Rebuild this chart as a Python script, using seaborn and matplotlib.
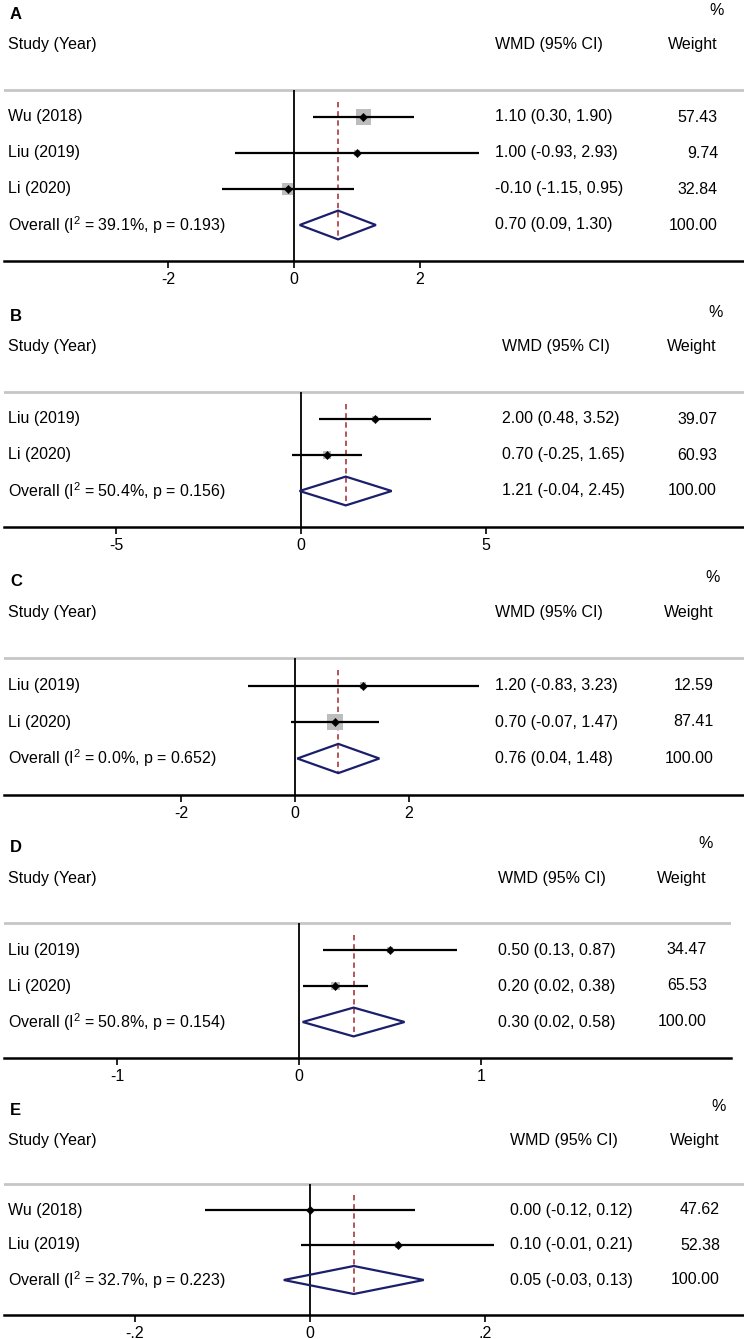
import numpy as np
import pandas as pd
import seaborn as sns
import matplotlib.pyplot as plt
from matplotlib import transforms

# datos de cada panel (A-E)
panel_labels = ['A', 'B', 'C', 'D', 'E']
studies = [['Wu (2018)', 'Liu (2019)', 'Li (2020)'],
           ['Liu (2019)', 'Li (2020)'],
           ['Liu (2019)', 'Li (2020)'],
           ['Liu (2019)', 'Li (2020)'],
           ['Wu (2018)', 'Liu (2019)']]
wmd = [[1.10, 1.00, -0.10], [2.00, 0.70], [1.20, 0.70], [0.50, 0.20], [0.00, 0.10]]
ci_low = [[0.30, -0.93, -1.15], [0.48, -0.25], [-0.83, -0.07], [0.13, 0.02], [-0.12, -0.01]]
ci_high = [[1.90, 2.93, 0.95], [3.52, 1.65], [3.23, 1.47], [0.87, 0.38], [0.12, 0.21]]
weights = [[57.43, 9.74, 32.84], [39.07, 60.93], [12.59, 87.41], [34.47, 65.53], [47.62, 52.38]]
overall_wmd = [0.70, 1.21, 0.76, 0.30, 0.05]
overall_low = [0.09, -0.04, 0.04, 0.02, -0.03]
overall_high = [1.30, 2.45, 1.48, 0.58, 0.13]
i2 = ['39.1', '50.4', '0.0', '50.8', '32.7']
p_het = ['0.193', '0.156', '0.652', '0.154', '0.223']
xticks = [[-2, 0, 2], [-5, 0, 5], [-2, 0, 2], [-1, 0, 1], [-0.2, 0, 0.2]]
xticklabels = [['-2', '0', '2'], ['-5', '0', '5'], ['-2', '0', '2'],
               ['-1', '0', '1'], ['-.2', '0', '.2']]

# geometria en pixeles (figura 744x1339)
W, H = 744, 1339
left_px = 4
axis_px = [261, 527, 795, 1058, 1315]
zero_px = [294, 301, 295, 299, 310]
unit_px = [63, 37, 57, 182, 875]
right_px = [744, 744, 744, 731, 744]
row_px = [36, 36, 36.5, 36, 35]
wmd_px = [495, 502, 495, 498, 510]
weight_px = [718, 717, 714, 707, 720]
box_scale = [1.98, 1.03, 1.71, 1.05, 0.7]

sns.set_theme(style='white')
plt.rcParams['font.family'] = ['Liberation Sans', 'DejaVu Sans']
plt.rcParams['mathtext.fontset'] = 'custom'
plt.rcParams['mathtext.rm'] = 'Liberation Sans'
plt.rcParams['text.color'] = 'black'
plt.rcParams['xtick.color'] = 'black'
fs = 11.5

fig = plt.figure(figsize=(W / 100, H / 100), dpi=100)
fig.patch.set_facecolor('white')

for k in range(5):
    n = len(studies[k])
    top_row, bottom_row = -2.3, n + 2
    h = (bottom_row - top_row) * row_px[k]
    ax = fig.add_axes([left_px / W, 1 - axis_px[k] / H,
                       (right_px[k] - left_px) / W, h / H])
    ax.set_xlim((left_px - zero_px[k]) / unit_px[k], (right_px[k] - zero_px[k]) / unit_px[k])
    ax.set_ylim(bottom_row, top_row)
    ax.set_facecolor('none')

    df = pd.DataFrame({'study': studies[k], 'wmd': wmd[k], 'lo': ci_low[k],
                       'hi': ci_high[k], 'w': weights[k]})
    df['row'] = np.arange(1, n + 1)
    ov = n + 1

    # lineas de referencia
    ax.axhline(0.25, color='#c6c6c6', lw=2, zorder=1)
    ax.vlines(0, 0.25, bottom_row, color='black', lw=1.3, zorder=2)
    ax.vlines(overall_wmd[k], 0.58, ov + 0.42, colors='#a3272d',
              linestyles=(0, (3.5, 2.5)), lw=1.1, zorder=2)

    # cajas, intervalos y puntos
    side = box_scale[k] * np.sqrt(df['w']) * 0.72
    ax.scatter(df['wmd'], df['row'], marker='s', s=side ** 2, color='#bdbdbd',
               linewidths=0, zorder=3)
    ax.hlines(df['row'], df['lo'], df['hi'], color='black', lw=1.6, zorder=4)
    sns.scatterplot(data=df, x='wmd', y='row', marker='D', s=18, color='black',
                    edgecolor='black', linewidth=0.3, ax=ax, zorder=5, legend=False)

    # diamante global
    ax.fill([overall_low[k], overall_wmd[k], overall_high[k], overall_wmd[k]],
            [ov, ov - 0.4, ov, ov + 0.4], facecolor='none', edgecolor='#1b1f6b',
            lw=1.6, zorder=4)

    # textos
    tr = transforms.blended_transform_factory(fig.transFigure, ax.transData)
    ax.text(10 / W, -1.85, panel_labels[k], transform=tr, fontsize=fs + 0.5,
            fontweight='bold', va='center', ha='left')
    ax.text((weight_px[k] + 6) / W, -1.95, '%', transform=tr, fontsize=fs,
            va='center', ha='right')
    ax.text(8 / W, -1, 'Study (Year)', transform=tr, fontsize=fs, va='center')
    ax.text(wmd_px[k] / W, -1, 'WMD (95% CI)', transform=tr, fontsize=fs, va='center')
    ax.text(weight_px[k] / W, -1, 'Weight', transform=tr, fontsize=fs,
            va='center', ha='right')
    for _, r in df.iterrows():
        ax.text(8 / W, r['row'], r['study'], transform=tr, fontsize=fs, va='center')
        ax.text(wmd_px[k] / W, r['row'], f"{r['wmd']:.2f} ({r['lo']:.2f}, {r['hi']:.2f})",
                transform=tr, fontsize=fs, va='center')
        ax.text(weight_px[k] / W, r['row'], f"{r['w']:.2f}", transform=tr,
                fontsize=fs, va='center', ha='right')
    ax.text(8 / W, ov, f"Overall (I$^2$ = {i2[k]}%, p = {p_het[k]})", transform=tr,
            fontsize=fs, va='center')
    ax.text(wmd_px[k] / W, ov,
            f"{overall_wmd[k]:.2f} ({overall_low[k]:.2f}, {overall_high[k]:.2f})",
            transform=tr, fontsize=fs, va='center')
    ax.text(weight_px[k] / W, ov, '100.00', transform=tr, fontsize=fs,
            va='center', ha='right')

    # eje x
    for s in ['top', 'left', 'right']:
        ax.spines[s].set_visible(False)
    ax.spines['bottom'].set_color('black')
    ax.spines['bottom'].set_linewidth(1.8)
    ax.set_yticks([])
    ax.set_xticks(xticks[k])
    ax.set_xticklabels(xticklabels[k])
    ax.tick_params(axis='x', bottom=True, direction='out', length=5, width=1.2,
                   color='black', labelcolor='black', labelsize=fs, pad=3)
    ax.set_xlabel('')
    ax.set_ylabel('')

fig.savefig('out.png', dpi=100, facecolor='white')
